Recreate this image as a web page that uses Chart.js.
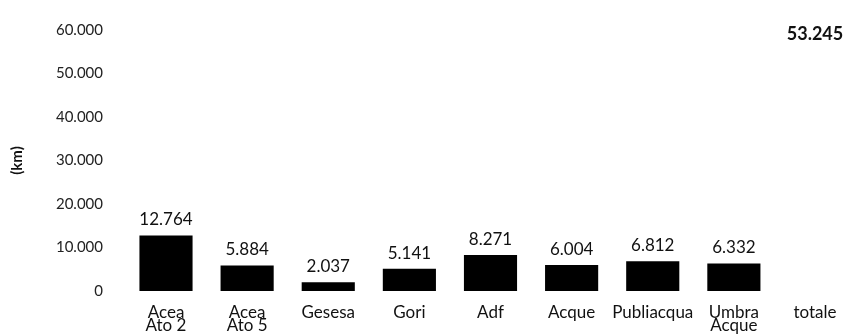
<!DOCTYPE html>
<html>
<head>
<meta charset="utf-8">
<script src="https://cdn.jsdelivr.net/npm/chart.js@4/dist/chart.umd.min.js"></script>
<style>
  html, body { margin: 0; padding: 0; background: #fff; }
  #wrap { width: 845px; height: 336px; }
</style>
</head>
<body>
<div id="wrap"><canvas id="chart"></canvas></div>
<script>
const categories = [['Acea', 'Ato 2'], ['Acea', 'Ato 5'], 'Gesesa', 'Gori', 'Adf', 'Acque', 'Publiacqua', ['Umbra', 'Acque'], 'totale']
const lengths = [12764, 5884, 2037, 5141, 8271, 6004, 6812, 6332, 53245]
const yTicks = [0, 10000, 20000, 30000, 40000, 50000, 60000]

const fmt = (v) => String(v).replace(/\B(?=(\d{3})+(?!\d))/g, '.')

const totalIndex = lengths.length - 1

// value labels above each bar
const valueLabels = {
  id: 'valueLabels',
  afterDatasetsDraw (chart) {
    const ctx = chart.ctx
    const meta = chart.getDatasetMeta(0)
    ctx.save()
    ctx.fillStyle = '#111'
    ctx.textAlign = 'center'
    ctx.textBaseline = 'bottom'
    meta.data.forEach((bar, i) => {
      const isTotal = i === totalIndex
      ctx.font = (isTotal ? 'bold 18px' : '17px') + ' Lato'
      ctx.fillText(fmt(lengths[i]), bar.x, bar.y - (isTotal ? 16 : 7))
    })
    ctx.restore()
  }
}

new Chart(document.getElementById('chart'), {
  type: 'bar',
  data: {
    labels: categories,
    datasets: [{
      data: lengths,
      backgroundColor: lengths.map((v, i) => i === totalIndex ? 'rgba(0,0,0,0)' : '#000'),
      borderWidth: 0,
      categoryPercentage: 1,
      barPercentage: 0.655,
      clip: false
    }]
  },
  options: {
    responsive: true,
    maintainAspectRatio: false,
    animation: false,
    layout: { padding: { top: 30, right: 30, bottom: 0, left: 0 } },
    plugins: {
      legend: { display: false },
      tooltip: { enabled: false }
    },
    scales: {
      x: {
        offset: false,
        grid: { display: false },
        border: { display: false },
        afterFit (scale) { scale.height = 45 },
        ticks: {
          color: '#111',
          padding: 7,
          maxRotation: 0,
          autoSkip: false,
          font: { family: 'Lato', size: 17, lineHeight: 0.76 }
        }
      },
      y: {
        min: 0,
        max: 60000,
        grid: { display: false },
        border: { display: false },
        afterFit (scale) {
          // wide axis, but keep the label padding from pushing the plot area
          scale.width = 166
          scale.paddingTop = 9
          scale.paddingBottom = 9
        },
        afterBuildTicks (scale) { scale.ticks = yTicks.map(v => ({ value: v })) },
        title: {
          display: true,
          text: '(km)',
          color: '#111',
          padding: { top: 8, bottom: 0 },
          font: { family: 'Lato', size: 15, weight: 'bold' }
        },
        ticks: {
          color: '#222',
          padding: 55,
          font: { family: 'Lato', size: 15 },
          callback: (v) => fmt(v)
        }
      }
    }
  },
  plugins: [valueLabels]
})
</script>
</body>
</html>
